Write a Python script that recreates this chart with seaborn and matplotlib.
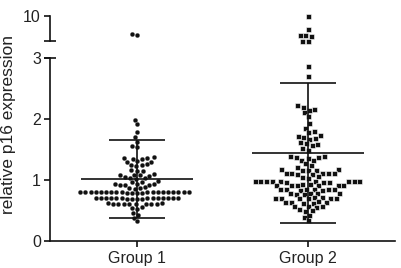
import numpy as np
import pandas as pd
import matplotlib
matplotlib.use("Agg")
import matplotlib.pyplot as plt
import seaborn as sns

sns.set_style("white")
plt.rcParams['font.family'] = ['Liberation Sans', 'DejaVu Sans']

categories = ["Group 1", "Group 2"]
y_label = "relative p16 expression"

# Group 1 (circles)
g1_upper = [5.5, 5.8]
g1_lower = [1.98, 1.91, 1.78, 1.70, 1.63, 1.55, 1.54,
            1.37, 1.36, 1.35, 1.36, 1.34,
            1.30, 1.29, 1.31,
            1.25, 1.24, 1.26, 1.23,
            1.16, 1.15, 1.14,
            1.09, 1.08, 1.10, 1.07, 1.09,
            1.04, 1.03, 1.02, 1.05,
            0.97, 0.98, 0.96,
            0.93, 0.92, 0.94, 0.91, 0.93, 0.92,
            0.87, 0.86, 0.88, 0.87,
            0.80, 0.81, 0.80, 0.79, 0.81, 0.80, 0.80, 0.81, 0.79, 0.80, 0.81,
            0.80, 0.80, 0.79, 0.81, 0.80, 0.80, 0.81, 0.79, 0.80, 0.81, 0.80,
            0.70, 0.71, 0.69, 0.70, 0.70, 0.71, 0.69, 0.70, 0.71, 0.70, 0.69,
            0.70, 0.71, 0.70, 0.69, 0.70, 0.71,
            0.61, 0.60, 0.62, 0.61, 0.60, 0.61, 0.62, 0.60, 0.61, 0.61,
            0.54, 0.55, 0.53,
            0.46, 0.43, 0.38, 0.32]

# Group 2 (squares)
g2_upper = [9.9, 6.8, 5.4, 5.2, 5.5, 4.1, 4.1]
g2_lower = [2.87, 2.70,
            2.23, 2.20, 2.17, 2.15, 2.11, 2.05,
            1.93, 1.86,
            1.80, 1.78, 1.74, 1.72, 1.71, 1.69, 1.68,
            1.62, 1.60, 1.59, 1.57,
            1.53, 1.50,
            1.40, 1.39, 1.38, 1.37, 1.36,
            1.33, 1.32, 1.28,
            1.24, 1.22,
            1.18, 1.17, 1.16, 1.17, 1.18,
            1.12, 1.11, 1.10, 1.11, 1.12, 1.10, 1.11,
            1.05, 1.04, 1.06,
            0.98, 0.99, 0.97, 0.98, 0.98, 0.99, 0.97, 0.98, 0.99, 0.98, 0.97, 0.98,
            0.92, 0.93, 0.91, 0.92, 0.92, 0.93, 0.91, 0.92,
            0.85, 0.84, 0.86, 0.85, 0.85, 0.84, 0.86, 0.85,
            0.78, 0.79, 0.77, 0.78, 0.79, 0.77,
            0.71, 0.72, 0.70, 0.71, 0.71, 0.72, 0.70, 0.71,
            0.64, 0.63, 0.65, 0.64, 0.63, 0.64,
            0.57, 0.58, 0.56, 0.57,
            0.51, 0.52, 0.50,
            0.43, 0.40, 0.34]

means = [1.01, 1.44]
sds = [0.64, 1.15]

lower_ticks = [0, 1, 2, 3]
upper_ticks = [10]
lower_lim = (0, 3)
upper_lim = (4, 10)

W, H = 401, 268
fig = plt.figure(figsize=(W / 100, H / 100), dpi=100)
ax_lo = fig.add_axes([50 / W, 1 - 241 / H, 345 / W, 183 / H])
ax_up = fig.add_axes([50 / W, 1 - 41 / H, 345 / W, 25 / H])

ink = "#111111"
lw = 1.2

def swarm(ax, vals1, vals2):
    d1 = pd.DataFrame({"group": categories[0], "value": vals1})
    d2 = pd.DataFrame({"group": categories[1], "value": vals2})
    sns.swarmplot(data=d1, x="group", y="value", order=categories, marker="o",
                  color=ink, size=3.4, linewidth=0.15, edgecolor="white", ax=ax,
                  clip_on=False, zorder=2)
    sns.swarmplot(data=d2, x="group", y="value", order=categories, marker="s",
                  color=ink, size=3.6, linewidth=0.4, edgecolor="white", ax=ax,
                  clip_on=False, zorder=2)

swarm(ax_lo, g1_lower, g2_lower)
swarm(ax_up, g1_upper, g2_upper)

for ax in (ax_lo, ax_up):
    ax.set_xlim(-0.51, 1.51)
    ax.set_facecolor("none")
    ax.set_xlabel("")
    ax.set_ylabel("")
    for s in ["top", "right"]:
        ax.spines[s].set_visible(False)
    ax.spines["left"].set_linewidth(lw)
    ax.spines["left"].set_color(ink)

ax_lo.set_ylim(*lower_lim)
ax_lo.set_yticks(lower_ticks)
ax_lo.set_yticklabels([str(t) for t in lower_ticks])
ax_lo.spines["bottom"].set_linewidth(lw)
ax_lo.spines["bottom"].set_color(ink)
ax_lo.set_xticks(range(len(categories)))
ax_lo.set_xticklabels(categories)
ax_lo.tick_params(axis="both", direction="out", length=4.5, width=lw, color=ink,
                  labelsize=11.5, labelcolor="#222222", pad=2, left=True, bottom=True)
ax_lo.tick_params(axis="x", pad=3)

ax_up.set_ylim(*upper_lim)
ax_up.set_yticks(upper_ticks)
ax_up.set_yticklabels([str(t) for t in upper_ticks])
ax_up.spines["bottom"].set_visible(False)
ax_up.set_xticks([])
ax_up.tick_params(axis="y", direction="out", length=4.5, width=lw, color=ink,
                  labelsize=11.5, labelcolor="#222222", pad=2, left=True)

# break marks
ax_up.plot([0], [0], marker="_", markersize=8, mew=lw, color=ink,
           transform=ax_up.transAxes, clip_on=False)
ax_lo.plot([0], [1], marker="_", markersize=8, mew=lw, color=ink,
           transform=ax_lo.transAxes, clip_on=False)

# mean +/- SD
for i, (m, s) in enumerate(zip(means, sds)):
    ax_lo.vlines(i, m - s, m + s, color=ink, lw=lw, zorder=5)
    ax_lo.hlines(m, i - 0.33, i + 0.33, color=ink, lw=lw, zorder=5)
    ax_lo.hlines([m - s, m + s], i - 0.165, i + 0.165, color=ink, lw=lw, zorder=5)

fig.text(9 / W, 1 - 124 / H, y_label, rotation=90, ha="center", va="center",
         fontsize=12.5, color="#222222")

fig.savefig("out.png", dpi=100)
